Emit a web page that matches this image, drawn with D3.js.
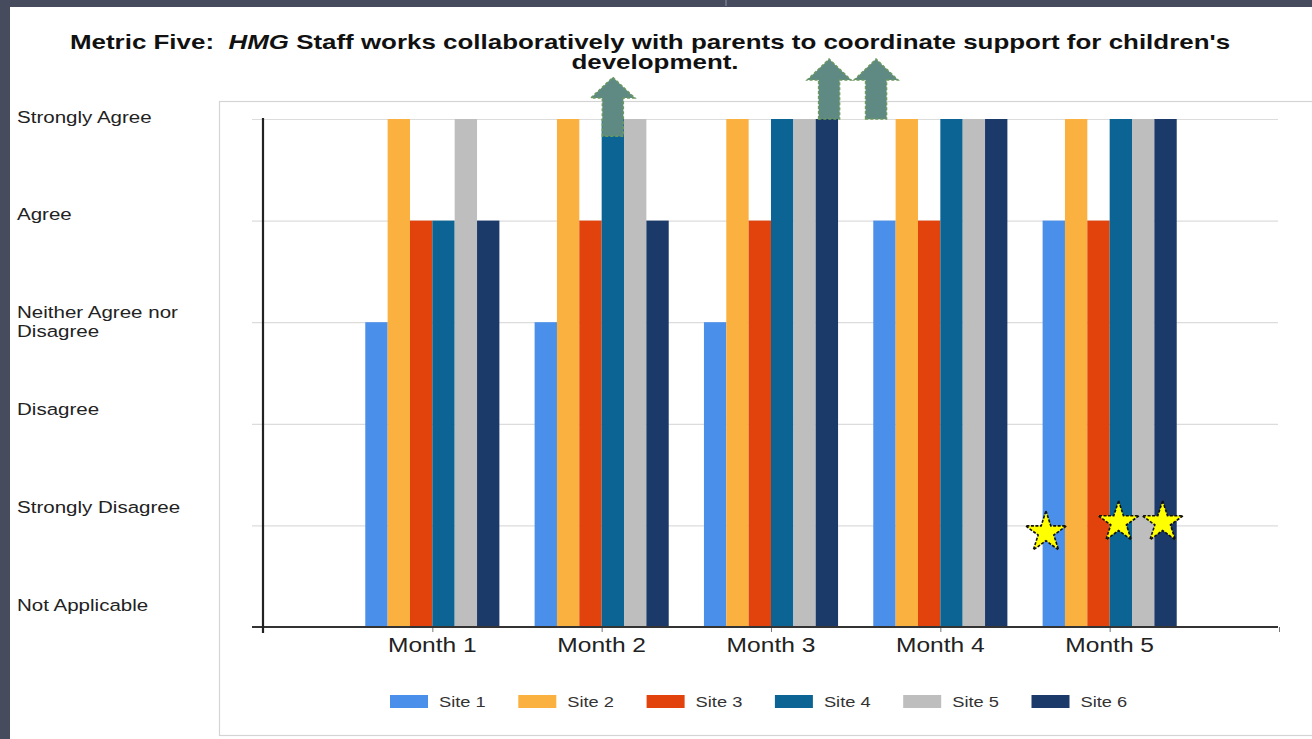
<!DOCTYPE html>
<html>
<head>
<meta charset="utf-8">
<script src="https://cdn.jsdelivr.net/npm/d3@7"></script>
<style>
  html, body { margin: 0; padding: 0; background: #fff; }
  svg { display: block; }
  text { font-family: "Liberation Sans", Arial, sans-serif; white-space: pre; }
</style>
</head>
<body>
<svg id="chart" width="1312" height="739"></svg>
<script>
// Survey scale (0 = Not Applicable ... 5 = Strongly Agree)
const levels = ["Not Applicable", "Strongly Disagree", "Disagree",
                "Neither Agree nor|Disagree", "Agree", "Strongly Agree"];
const months = ["Month 1", "Month 2", "Month 3", "Month 4", "Month 5"];
const sites = ["Site 1", "Site 2", "Site 3", "Site 4", "Site 5", "Site 6"];
const siteColors = ["#4a8fea", "#fbb13f", "#e2430c", "#0b6494", "#bebebe", "#1b3a69"];

// Responses per site, one array per month (same order as sites)
const month1 = [3, 5, 4, 4, 5, 4];
const month2 = [3, 5, 4, 5, 5, 4];
const month3 = [3, 5, 4, 5, 5, 5];
const month4 = [4, 5, 4, 5, 5, 5];
const month5 = [4, 5, 4, 5, 5, 5];
const responses = [month1, month2, month3, month4, month5];

// Improvement arrows: month, bar slot, base and tip on the response scale
const arrows = [
  { month: 2, slot: 3.0, base: 4.83, tip: 5.41 },
  { month: 3, slot: 5.1, base: 5.0, tip: 5.59 },
  { month: 3, slot: 7.2, base: 5.0, tip: 5.59 }
];
// Highlight stars: month, bar slot, height on the response scale
const stars = [
  { month: 5, slot: -0.35, value: 0.93 },
  { month: 5, slot: 2.9, value: 1.03 },
  { month: 5, slot: 4.87, value: 1.03 }
];

const titleLine1 = ["Metric Five:  ", "HMG", " Staff works collaboratively with parents to coordinate support for children's"];
const titleLine2 = "development.";

const W = 1312, H = 739;
const stretch = 1.26;   // horizontal text scaling used throughout
const svg = d3.select("#chart");

// frame
svg.append("rect").attr("width", W).attr("height", H).attr("fill", "#fff");
svg.append("rect").attr("x", 0).attr("y", 0).attr("width", W).attr("height", 7).attr("fill", "#474b5e");
svg.append("rect").attr("x", 0).attr("y", 0).attr("width", 10).attr("height", H).attr("fill", "#474b5e");
svg.append("rect").attr("x", 725).attr("y", 0).attr("width", 2).attr("height", 6).attr("fill", "#6a6f85");

// chart panel
svg.append("rect").attr("x", 219.5).attr("y", 101.5).attr("width", 1200).attr("height", 634)
  .attr("fill", "#fff").attr("stroke", "#d4d4d4").attr("stroke-width", 1.2);

// scales
const x = d3.scaleLinear().domain([0, 6]).range([263, 1279]);
const y = d3.scaleLinear().domain([0, 5]).range([627, 119]);
const yLabel = d3.scaleLinear().domain([0, 5]).range([605, 117]);   // label column spacing
const groupW = (x(1) - x(0)) * 0.792;
const xSite = d3.scaleBand().domain(sites).range([-groupW / 2, groupW / 2]).padding(0);
const barW = xSite.bandwidth();
const slotX = (m, s) => x(m) + (s - 2.5) * barW;

// stretched text helper
function stext(g, tx, ty, str, anchor, sx) {
  return g.append("text")
    .attr("transform", `translate(${tx},${ty}) scale(${sx || stretch},1)`)
    .attr("text-anchor", anchor || "start")
    .text(str);
}

// title
const titleStretch = 1.33;
const tg = svg.append("g").attr("fill", "#111").attr("font-weight", "bold").attr("font-size", 19.5);
const t1 = tg.append("text").attr("transform", `translate(650,49) scale(${titleStretch},1)`).attr("text-anchor", "middle");
titleLine1.forEach((s, i) => t1.append("tspan").attr("font-style", i === 1 ? "italic" : "normal").text(s));
stext(tg, 655, 69, titleLine2, "middle", titleStretch);

// gridlines
svg.append("g").selectAll("line").data(d3.range(0, 6)).join("line")
  .attr("x1", 252).attr("x2", 1278)
  .attr("y1", d => y(d) + 0.5).attr("y2", d => y(d) + 0.5)
  .attr("stroke", "#dcdcdc").attr("stroke-width", 1.2);

// y labels
const yl = svg.append("g").attr("fill", "#222").attr("font-size", 16.3);
levels.forEach((lab, i) => {
  const parts = lab.split("|");
  const yy = yLabel(i) + 5.5;
  parts.forEach((p, k) => stext(yl, 17, yy + k * 19.5, p));
});

// bars
const groups = svg.append("g").selectAll("g").data(responses).join("g")
  .attr("transform", (d, i) => `translate(${x(i + 1)},0)`);
groups.selectAll("rect").data(d => d.map((v, j) => ({ v, site: sites[j], c: siteColors[j] }))).join("rect")
  .attr("x", d => xSite(d.site))
  .attr("width", barW)
  .attr("y", d => y(d.v))
  .attr("height", d => y(0) - y(d.v))
  .attr("fill", d => d.c);

// axes
const xAxis = d3.axisBottom(x).tickValues(d3.range(0, 7)).tickSize(5).tickSizeOuter(0)
  .tickFormat(() => "");
const xa = svg.append("g").attr("transform", `translate(0,${y(0)})`).call(xAxis);
xa.select(".domain").remove();
xa.selectAll(".tick line").attr("stroke", "#777");
svg.append("line").attr("x1", 252).attr("x2", 1278).attr("y1", y(0)).attr("y2", y(0))
  .attr("stroke", "#333").attr("stroke-width", 2);
svg.append("line").attr("x1", 263).attr("x2", 263).attr("y1", y(5) - 1).attr("y2", y(0) + 6)
  .attr("stroke", "#222").attr("stroke-width", 2.2);

const ml = svg.append("g").attr("fill", "#222").attr("font-size", 19.5);
months.forEach((m, i) => stext(ml, x(i + 1), 652, m, "middle"));

// arrows
const arrowPath = a => {
  const cx = slotX(a.month, a.slot);
  const yb = y(a.base), yt = y(a.tip);
  const hw = 22, sw = 10.5, hh = (yb - yt) * 0.35;
  return `M${cx - sw},${yb} L${cx - sw},${yt + hh} L${cx - hw},${yt + hh} L${cx},${yt} ` +
         `L${cx + hw},${yt + hh} L${cx + sw},${yt + hh} L${cx + sw},${yb} Z`;
};
svg.append("g").selectAll("path").data(arrows).join("path")
  .attr("d", arrowPath)
  .attr("fill", "#5f8983")
  .attr("stroke", "#6b9a5e").attr("stroke-width", 1.5).attr("stroke-dasharray", "3,2");

// stars
const starPath = d3.symbol().type(d3.symbolStar).size(520);
svg.append("g").selectAll("path").data(stars).join("path")
  .attr("d", starPath)
  .attr("transform", d => `translate(${slotX(d.month, d.slot)},${y(d.value)})`)
  .attr("fill", "#ffff00")
  .attr("stroke", "#111").attr("stroke-width", 1.6).attr("stroke-dasharray", "3,1.5");

// legend
const lg = svg.append("g").attr("font-size", 14.5).attr("fill", "#333");
sites.forEach((s, i) => {
  const lx = 390 + i * 128.3;
  lg.append("rect").attr("x", lx).attr("y", 695).attr("width", 38).attr("height", 13).attr("fill", siteColors[i]);
  stext(lg, lx + 49, 707, s);
});
</script>
</body>
</html>
